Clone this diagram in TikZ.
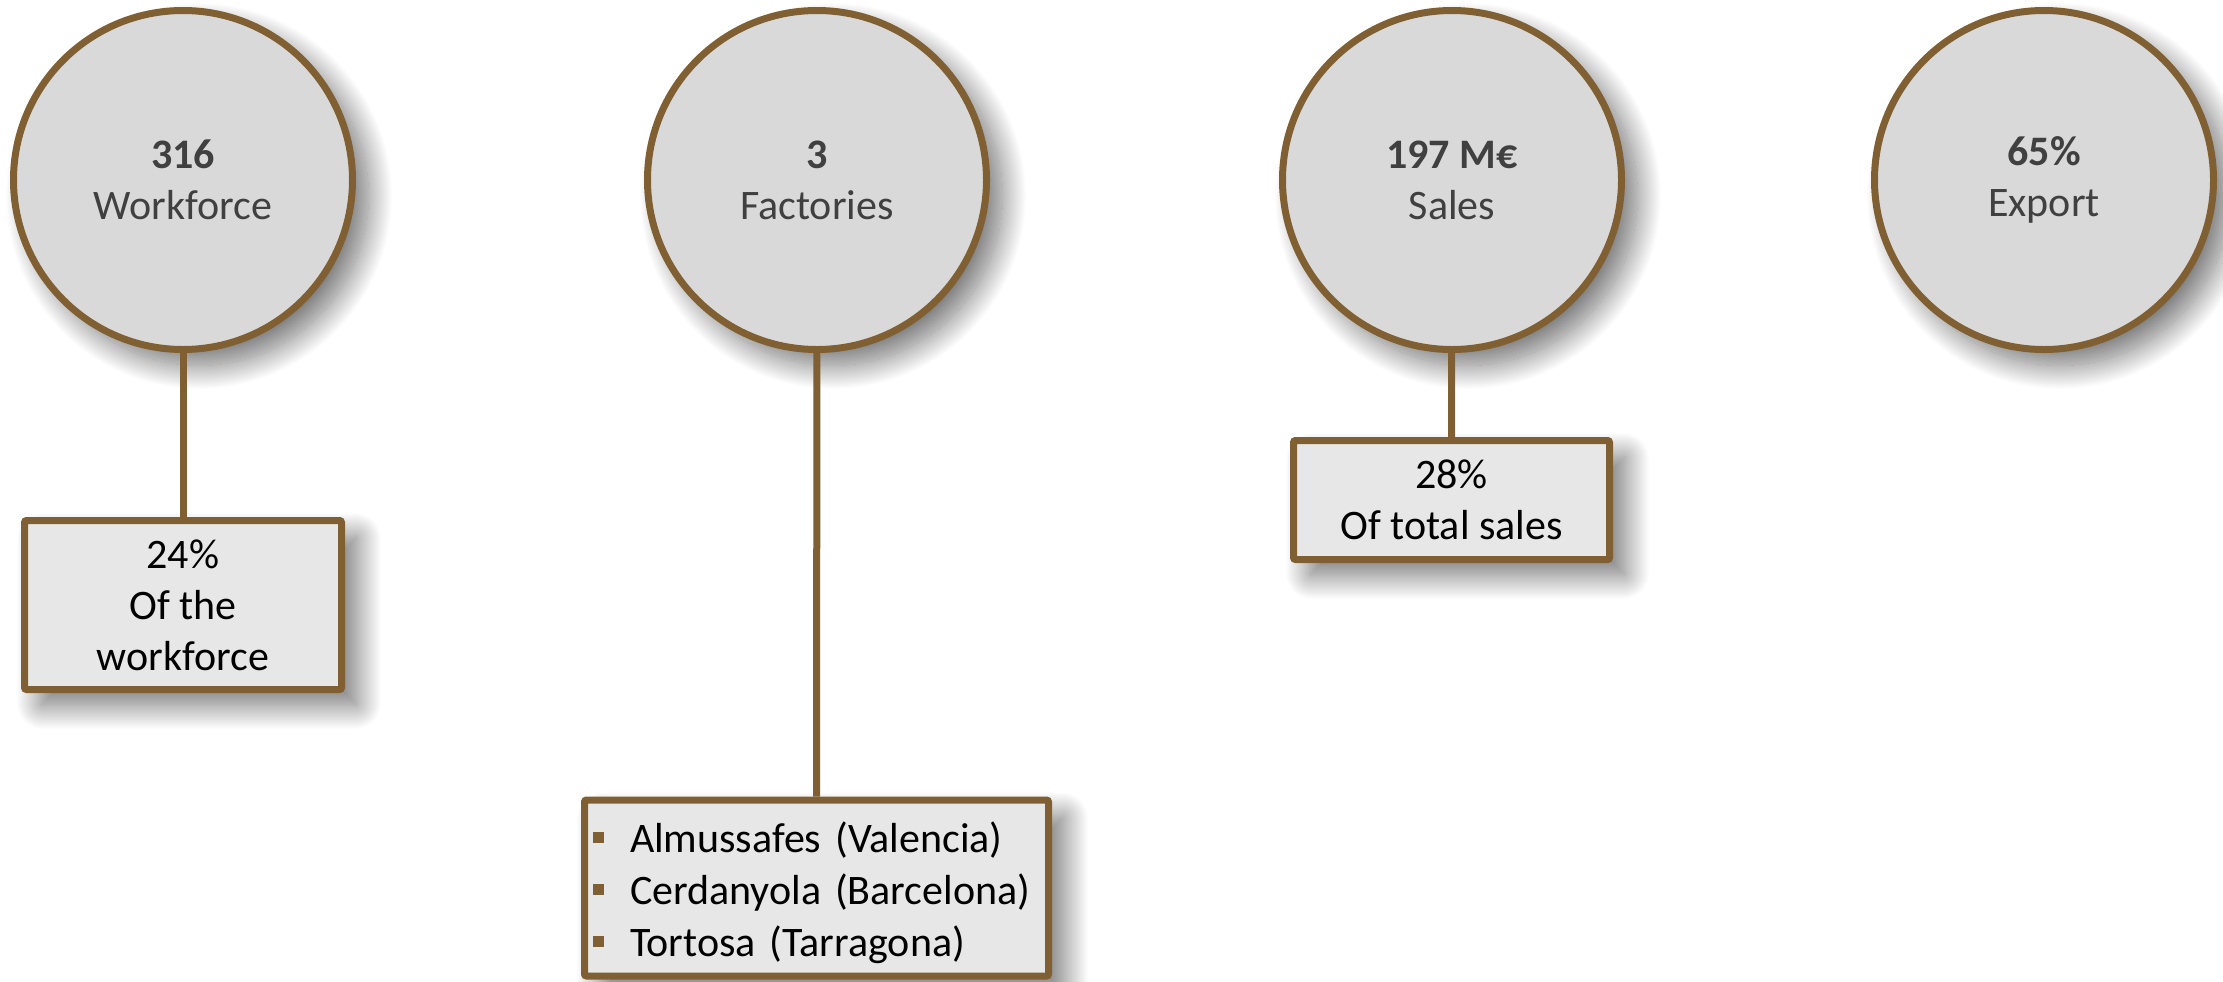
\documentclass[tikz,border=0pt]{standalone}
\usepackage{fontspec}
\setmainfont{Carlito}
\usetikzlibrary{positioning}
\usetikzlibrary{shadows.blur}

\definecolor{rimbrown}{RGB}{128,96,50}
\definecolor{discgray}{RGB}{217,217,217}
\definecolor{notegray}{RGB}{231,231,231}
\definecolor{figgray}{RGB}{64,64,64}

\newcommand{\pin}{\makebox[18.5pt][l]{\textcolor{rimbrown}{\rule[4.5pt]{5.5pt}{5.5pt}}}}

\tikzset{
  softshadow/.style={blur shadow={shadow xshift=8pt, shadow yshift=-8pt,
      shadow blur radius=12pt, shadow blur steps=40, shadow opacity=55}},
  figure/.style={circle, draw=rimbrown, line width=3.5pt, fill=discgray,
    minimum size=169.5pt, inner sep=0pt, align=center, text=figgray,
    font=\fontsize{21pt}{25.5pt}\selectfont, softshadow},
  note/.style={rectangle, rounded corners=1pt, draw=rimbrown, line width=3.5pt,
    fill=notegray, align=center, inner sep=0pt,
    font=\fontsize{21pt}{25.5pt}\selectfont, softshadow},
  stem/.style={draw=rimbrown, line width=3.5pt}
}

\begin{document}
\begin{tikzpicture}[x=0.5pt, y=-0.5pt]
\useasboundingbox (0,0) rectangle (2223,981);

% figures
\node [figure] (work) at (183,180) {\textbf{316}\\Workforce};
\node [figure] (fact) at (817,180) {\textbf{3}\\Factories};
\node [figure] (sale) at (1452,180) {\textbf{197 M€}\\Sales};
\node [figure] (expo) at (2044,180) {\textbf{65\%}\\Export};

% notes
\node [note, minimum width=158.5pt, minimum height=84.5pt] (worknote)
  at (183,605) {24\%\\Of the\\workforce};
\node [note, text width=223.5pt, align=left, inner xsep=4.25pt,
  font=\fontsize{21pt}{26pt}\selectfont,
  minimum height=88pt] (factnote) at (816.5,888)
  {\rule{0pt}{20pt}\pin Almussafes (Valencia)\\\pin Cerdanyola (Barcelona)\\\pin Tortosa (Tarragona)};
\node [note, minimum width=158pt, minimum height=59.5pt] (salenote)
  at (1451.5,500) {28\%\\Of total sales};

% stems
\draw [stem] (work) -- (worknote);
\draw [stem] (fact) -- (factnote);
\draw [stem] (sale) -- (salenote);
\end{tikzpicture}
\end{document}
